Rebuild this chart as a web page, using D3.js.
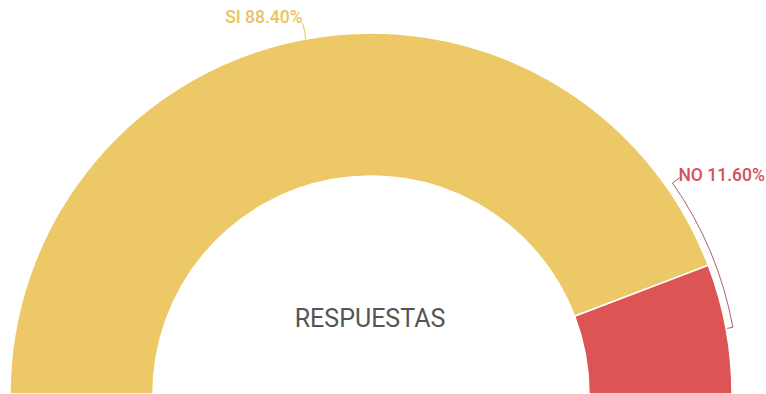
<!DOCTYPE html>
<html><head><meta charset="utf-8">
<script src="https://cdn.jsdelivr.net/npm/d3@7/dist/d3.min.js"></script>
<style>html,body{margin:0;padding:0;background:#fff;overflow:hidden}</style>
</head><body>
<svg id="chart" width="766" height="394"></svg>
<script>
const categories = ["SI", "NO"];
const values = [88.40, 11.60];
const colors = ["#ECC966", "#DD5454"];
const labelColors = ["#E9C45E", "#D4505E"];
const centerLabel = "RESPUESTAS";

const svg = d3.select("#chart");
const cx = 371, cy = 394, outerR = 361, innerR = 218;
const g = svg.append("g").attr("transform", `translate(${cx},${cy})`);

const data = categories.map((c, i) => ({cat: c, value: values[i], color: colors[i], lc: labelColors[i]}));
const pie = d3.pie().value(d => d.value).sort(null).startAngle(-Math.PI/2).endAngle(Math.PI/2);
const arc = d3.arc().innerRadius(innerR).outerRadius(outerR);
const arcs = pie(data);

g.selectAll("path.slice").data(arcs).enter().append("path")
  .attr("class", "slice")
  .attr("d", arc)
  .attr("fill", d => d.data.color)
  .attr("stroke", "#fff").attr("stroke-width", 1.5);

const fmt = d3.format(".2f");
const pt = (r, a) => [r * Math.sin(a), -r * Math.cos(a)];

// SI label: short leader straight up
{
  const a = arcs[0];
  const mid = (a.startAngle + a.endAngle) / 2;
  const p0 = pt(outerR, mid);
  const p1 = [p0[0] - 3, p0[1] - 16];
  g.append("path").attr("d", d3.line()([p0, [p0[0]-1, p0[1]-8], p1]))
    .attr("fill", "none").attr("stroke", a.data.lc).attr("stroke-width", 1);
  g.append("text").attr("x", p1[0]).attr("y", p1[1])
    .attr("text-anchor", "end")
    .attr("font-family", "Roboto, sans-serif").attr("font-size", 17.5).attr("font-weight", 500)
    .attr("fill", a.data.lc)
    .text(`${a.data.cat} ${fmt(a.data.value)}%`);
}

// NO label: curved bracket leader along outer arc
{
  const a = arcs[1];
  const mid = (a.startAngle + a.endAngle) / 2;
  const rB = 368;
  const topAng = Math.PI/2 - 35 * Math.PI/180;
  const pTop = pt(rB, topAng);
  const pBot = pt(rB, mid);
  const pIn = pt(outerR + 1, mid);
  const labelPt = [pTop[0] + 7, pTop[1] - 5];
  const path = d3.path();
  path.moveTo(labelPt[0], labelPt[1]);
  path.lineTo(pTop[0], pTop[1]);
  path.arc(0, 0, rB, topAng - Math.PI/2, mid - Math.PI/2, false);
  path.lineTo(pIn[0], pIn[1]);
  g.append("path").attr("d", path.toString())
    .attr("fill", "none").attr("stroke", "#A86070").attr("stroke-width", 1);
  g.append("text").attr("x", labelPt[0] - 1).attr("y", labelPt[1] + 3)
    .attr("text-anchor", "start")
    .attr("font-family", "Roboto, sans-serif").attr("font-size", 17.5).attr("font-weight", 500)
    .attr("fill", a.data.lc)
    .text(`${a.data.cat} ${fmt(a.data.value)}%`);
}

g.append("text").attr("x", -1).attr("y", -67)
  .attr("text-anchor", "middle")
  .attr("font-family", "Roboto, sans-serif").attr("font-size", 25)
  .attr("fill", "#555")
  .text(centerLabel);
</script>
</body></html>
